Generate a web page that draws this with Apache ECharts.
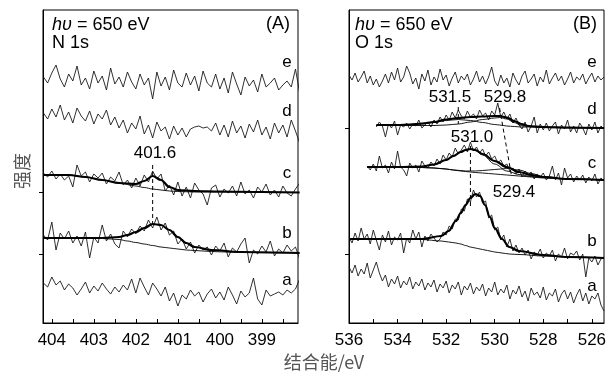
<!DOCTYPE html>
<html><head><meta charset="utf-8">
<script src="https://cdn.jsdelivr.net/npm/echarts@6/dist/echarts.min.js"></script>
<style>html,body{margin:0;padding:0;background:#fff}#c{width:608px;height:374px}</style>
</head><body><div id="c"></div>
<script>
// ---------- energies (binding energy grids, eV) ----------
const leftStart = 404.2, leftStep = 0.1, leftCount = 62;
const rightStart = 536, rightStep = 0.125, rightCount = 85;
const leftX = []; for (let i = 0; i < leftCount; i++) leftX.push(+(leftStart - leftStep * i).toFixed(3));
const rightX = []; for (let i = 0; i < rightCount; i++) rightX.push(+(rightStart - rightStep * i).toFixed(3));

// ---------- Panel A: N 1s (intensity, arb. units incl. offsets) ----------
const N_e = [246,240,250,258,244,236,249,242,257,238,245,234,252,240,247,233,255,239,246,236,251,241,234,249,238,245,224,251,237,246,233,253,240,236,250,238,247,232,252,240,236,249,234,245,230,251,239,228,246,237,243,231,249,236,240,245,233,238,242,236,254,230];
const N_d = [210,204,214,206,218,203,211,200,215,207,202,212,199,209,204,213,198,206,195,203,190,200,194,207,189,198,185,201,192,196,184,197,188,195,186,194,196,197,195,196,192,200,188,198,186,202,190,197,185,199,191,203,188,196,184,200,190,198,186,203,192,180];
const N_c = [150,146,152,144,149,143,147,136,158,147,151,141,149,145,150,139,146,142,151,138,143,135,145,137,148,141,152,144,149,132,138,128,141,127,136,125,140,133,129,118,135,138,126,134,130,137,127,141,129,133,125,136,131,139,128,133,126,137,130,127,134,140];
const N_b = [88,83,101,73,90,84,92,80,87,77,91,65,86,80,98,82,89,79,75,92,86,94,89,97,92,103,95,106,93,100,88,92,79,84,74,81,70,78,73,76,68,77,72,80,66,75,71,79,85,60,73,69,77,71,82,67,74,70,78,72,76,64];
const N_a = [40,36,46,38,42,33,39,35,28,34,41,30,37,32,40,34,29,36,31,38,33,44,30,45,36,28,40,34,27,36,22,30,17,28,24,33,27,31,21,29,34,25,31,23,36,28,19,32,26,30,45,24,18,33,27,29,31,28,33,30,34,44];
// fits
const N_cFitX = [404.2,403.6,403.2,402.8,402.4,402.0,401.8,401.6,401.4,401.2,401.0,400.6,400.0,399.0,398.1];
const N_cFit  = [148,148,146,143,140,139,142,147,143,136,133,132,131.5,131,130.5];
const N_cBg   = [148,148,146,143,140,137,135.5,134,133,132,131.5,131,131,131,130.5];
const N_bFitX = [404.2,403.5,402.8,402.4,402.2,402.0,401.8,401.6,401.4,401.2,401.0,400.8,400.6,400.2,399.5,398.1];
const N_bFit  = [85,85,85,86,88,91,95,99,98,93,86,80,76,73,71,70];
const N_bBg   = [85,85,84.5,83.5,82,80.5,79,77.5,76,75,74,73,72.5,71.5,70.5,70];
const N_peak = 401.6;
const N_peakLine = [[N_peak,158],[N_peak,99]];

// ---------- Panel B: O 1s ----------
const O_e = [248,243,250,241,246,252,240,247,238,244,236,242,249,240,251,243,255,241,246,257,250,239,245,234,249,242,253,238,246,241,254,243,248,237,245,251,240,247,243,249,238,244,252,241,247,239,246,256,242,237,248,240,245,236,250,243,238,247,252,240,244,249,237,246,241,253,239,245,250,242,247,238,244,251,240,246,243,249,239,245,250,241,247,243,246];
const O_dStart = 9;
const O_d = [196,201,197,186,199,195,202,188,198,196,200,194,199,197,203,195,198,201,196,203,199,206,201,208,203,211,205,213,207,204,212,206,209,204,213,207,210,203,212,208,220,206,211,204,209,200,205,198,194,201,191,197,206,190,199,193,200,192,197,201,189,198,194,203,191,197,190,200,195,188,199,193,201,190,197,194];
const O_cStart = 6;
const O_c = [157,153,159,152,167,155,158,150,161,154,172,156,153,147,160,155,158,151,162,157,155,161,157,164,159,168,163,170,166,175,169,173,178,171,181,172,176,170,174,167,171,164,167,160,163,157,159,152,155,149,154,146,152,148,151,144,149,146,150,143,147,157,143,150,138,155,145,149,141,147,143,148,140,146,142,149,139,145,142];
const O_b = [86,80,90,82,95,84,89,79,93,83,73,88,81,92,78,86,83,90,70,85,80,93,84,91,76,87,82,89,85,81,84,91,88,97,94,104,103,114,112,124,121,133,126,131,120,122,105,108,93,96,83,88,76,84,72,78,70,75,68,73,64,71,68,74,65,70,67,73,62,69,66,75,64,70,68,72,63,69,46,65,61,67,58,64,66];
const O_a = [56,50,58,47,54,49,60,45,53,61,50,42,48,36,44,39,47,35,42,38,46,34,41,37,44,33,40,36,43,31,39,35,42,30,38,34,41,28,37,33,40,29,36,32,39,27,35,31,41,28,34,30,38,24,33,29,37,26,32,22,35,28,31,25,36,23,30,27,34,21,29,33,24,31,20,28,34,22,30,19,27,24,30,18,12];
// fits
const O_dFitX = [534.875,534.0,533.5,533.0,532.5,532.0,531.5,531.0,530.5,530.0,529.8,529.5,529.2,528.9,528.6,528.0,527.0,525.5];
const O_dFit  = [198,198,198.5,199.5,201,203.5,205,206,206.5,207,207,205.5,202,199,197,196,195.5,195];
const O_dC1   = [197.5,197.5,198,199,200.5,202.5,203.5,202.5,200.5,198.5,198,197,196.5,196,196,195.5,195,195];
const O_dC2   = [197.5,197.5,197.5,197.5,197.5,198,199,201,203.5,205,205.5,204,200.5,197.5,196.5,196,195.5,195];
const O_cFitX = [535.25,534.0,533.0,532.5,532.0,531.7,531.4,531.2,531.0,530.8,530.5,530.0,529.5,529.0,528.5,528.0,527.0,525.5];
const O_cFit  = [156,156,156.5,158.5,163,167,171,173,174,173,169,162,156,151,148,146,144,143];
const O_cBg   = [156,156,155.5,155,154,153,152,151.5,151,150.5,150,149,148,147,146,145,144,143];
const O_cC1   = [156,156,156.5,158.5,163,167,171,173,174,172.5,168,159,152,148.5,146.5,145.5,144,143];
const O_cC2   = [156,156,155.5,155,154,153,152.5,152,152,152,152.5,153.5,154.5,153,149.5,146.5,144,143];
const O_bFitX = [536,533,532.2,531.9,531.6,531.4,531.2,531.0,530.8,530.6,530.4,530.2,530.0,529.7,529.4,529.0,528.0,527.0,525.5];
const O_bFit  = [84,84,87,92,102,110,118,125,129,127,118,106,95,84,76,72,68,66,65];
const O_bBg   = [84,83.5,82,81,80,79,77.5,76,75,74,73,72,71,70,69,68.5,67,66,65];
const O_line1 = [[531.5,216],[531.5,199]];
const O_line2 = [[529.8,215],[529.3,146]];
const O_line3 = [[531.0,177],[531.0,117]];

// tick labels
const leftTicks = [398.5,399,399.5,400,400.5,401,401.5,402,402.5,403,403.5,404];
const leftLabels = [399,400,401,402,403,404];
const rightTicks = [526,527,528,529,530,531,532,533,534,535,536];
const rightLabels = [526,528,530,532,534,536];

// ---------- build ----------
const pairs = (xs, ys, off) => ys.map((y, k) => [xs[k + (off || 0)], y]);
const FONT = '"Liberation Sans", Arial, sans-serif';
function noisy(data, g) {
  return {type:'line', xAxisIndex:g, yAxisIndex:g, data, showSymbol:false, symbol:'none',
    lineStyle:{color:'#1a1a1a', width:0.9}, z:2, silent:true};
}
function fit(data, g, w) {
  return {type:'line', xAxisIndex:g, yAxisIndex:g, data, showSymbol:false, symbol:'none',
    smooth:0.35, smoothMonotone:'x', lineStyle:{color:'#000', width:w}, z: w > 1.5 ? 4 : 3, silent:true};
}
function dashed(data, g) {
  return {type:'line', xAxisIndex:g, yAxisIndex:g, data, showSymbol:false, symbol:'none',
    lineStyle:{color:'#000', width:1, type:[4,3]}, z:5, silent:true};
}
function xAx(g, min, max, ticks, labels) {
  return {type:'value', gridIndex:g, min, max, inverse:true,
    axisLine:{show:true, lineStyle:{color:'#000', width:1}},
    axisTick:{show:true, inside:true, length:4, customValues:ticks, lineStyle:{color:'#000'}},
    axisLabel:{show:true, customValues:labels, color:'#000', fontSize:17, fontFamily:FONT, margin:9},
    splitLine:{show:false}};
}
function yAx(g, ticks) {
  return {type:'value', gridIndex:g, min:0, max:313,
    axisLine:{show:true, lineStyle:{color:'#000', width:1}},
    axisTick:{show:true, inside:false, length:4, customValues:ticks, lineStyle:{color:'#000'}},
    axisLabel:{show:false}, splitLine:{show:false}};
}
function txt(text, x, y, size, align, extra) {
  return Object.assign({type:'text', x, y, z:10, style:Object.assign({text, fill:'#000',
    font: size + 'px ' + FONT, align: align || 'center', verticalAlign:'middle'}, {})}, extra || {});
}
function hvText(x, y) {
  return {type:'text', x, y, z:10, style:{text:'{i|hυ} = 650 eV', fill:'#000', font:'18px ' + FONT,
    align:'left', verticalAlign:'middle', rich:{i:{fontStyle:'italic', fontSize:18, fontFamily:FONT}}}};
}

const option = {
  animation:false,
  backgroundColor:'#fff',
  grid:[
    {left:43, top:10, width:255, height:313, show:true, borderColor:'#000', borderWidth:1,
     backgroundColor:'transparent', containLabel:false, outerBoundsMode:'none'},
    {left:349, top:10, width:255, height:313, show:true, borderColor:'#000', borderWidth:1,
     backgroundColor:'transparent', containLabel:false, outerBoundsMode:'none'}
  ],
  xAxis:[xAx(0, 398.14, 404.21, leftTicks, leftLabels), xAx(1, 525.5, 536, rightTicks, rightLabels)],
  yAxis:[yAx(0, [69,131]), yAx(1, [69,195])],
  series:[
    noisy(pairs(leftX, N_e), 0), noisy(pairs(leftX, N_d), 0), noisy(pairs(leftX, N_c), 0),
    noisy(pairs(leftX, N_b), 0), noisy(pairs(leftX, N_a), 0),
    fit(pairs(N_cFitX, N_cBg), 0, 0.9), fit(pairs(N_cFitX, N_cFit), 0, 2.2),
    fit(pairs(N_bFitX, N_bBg), 0, 0.9), fit(pairs(N_bFitX, N_bFit), 0, 2.2),
    dashed(N_peakLine, 0),
    noisy(pairs(rightX, O_e), 1), noisy(pairs(rightX, O_d, O_dStart), 1), noisy(pairs(rightX, O_c, O_cStart), 1),
    noisy(pairs(rightX, O_b), 1), noisy(pairs(rightX, O_a), 1),
    fit(pairs(O_dFitX, O_dC1), 1, 0.9), fit(pairs(O_dFitX, O_dC2), 1, 0.9), fit(pairs(O_dFitX, O_dFit), 1, 2.2),
    fit(pairs(O_cFitX, O_cBg), 1, 0.9), fit(pairs(O_cFitX, O_cC1), 1, 0.9), fit(pairs(O_cFitX, O_cC2), 1, 0.9),
    fit(pairs(O_cFitX, O_cFit), 1, 2.2),
    fit(pairs(O_bFitX, O_bBg), 1, 0.9), fit(pairs(O_bFitX, O_bFit), 1, 2.2),
    dashed(O_line1, 1), dashed(O_line2, 1), dashed(O_line3, 1)
  ],
  graphic:[
    hvText(52, 25), txt('N 1s', 52, 43, 18, 'left'), txt('(A)', 290, 24, 18, 'right'),
    hvText(355, 25), txt('O 1s', 355, 43, 18, 'left'), txt('(B)', 597, 24, 18, 'right'),
    txt('e', 287, 62, 17), txt('d', 287, 111, 17), txt('c', 287, 173, 17), txt('b', 287, 233, 17), txt('a', 287, 280, 17),
    txt('e', 592, 62, 17), txt('d', 592, 109, 17), txt('c', 592, 163, 17), txt('b', 592, 241, 17), txt('a', 592, 286, 17),
    txt('401.6', 155, 153, 17), txt('531.5', 450, 97, 17), txt('529.8', 505, 97, 17),
    txt('531.0', 472, 137, 17), txt('529.4', 514, 192, 17),
    {type:'text', x:22, y:171, rotation:Math.PI/2, z:10, style:{text:'强度', fill:'#555',
      font:'18px "Noto Sans CJK SC", sans-serif', align:'center', verticalAlign:'middle'}},
    {type:'text', x:324, y:362, z:10, style:{text:'结合能/eV', fill:'#555',
      font:'18px "Noto Sans CJK SC", sans-serif', align:'center', verticalAlign:'middle'}}
  ]
};
const chart = echarts.init(document.getElementById('c'), null, {renderer:'canvas'});
chart.setOption(option);
</script>
</body></html>
